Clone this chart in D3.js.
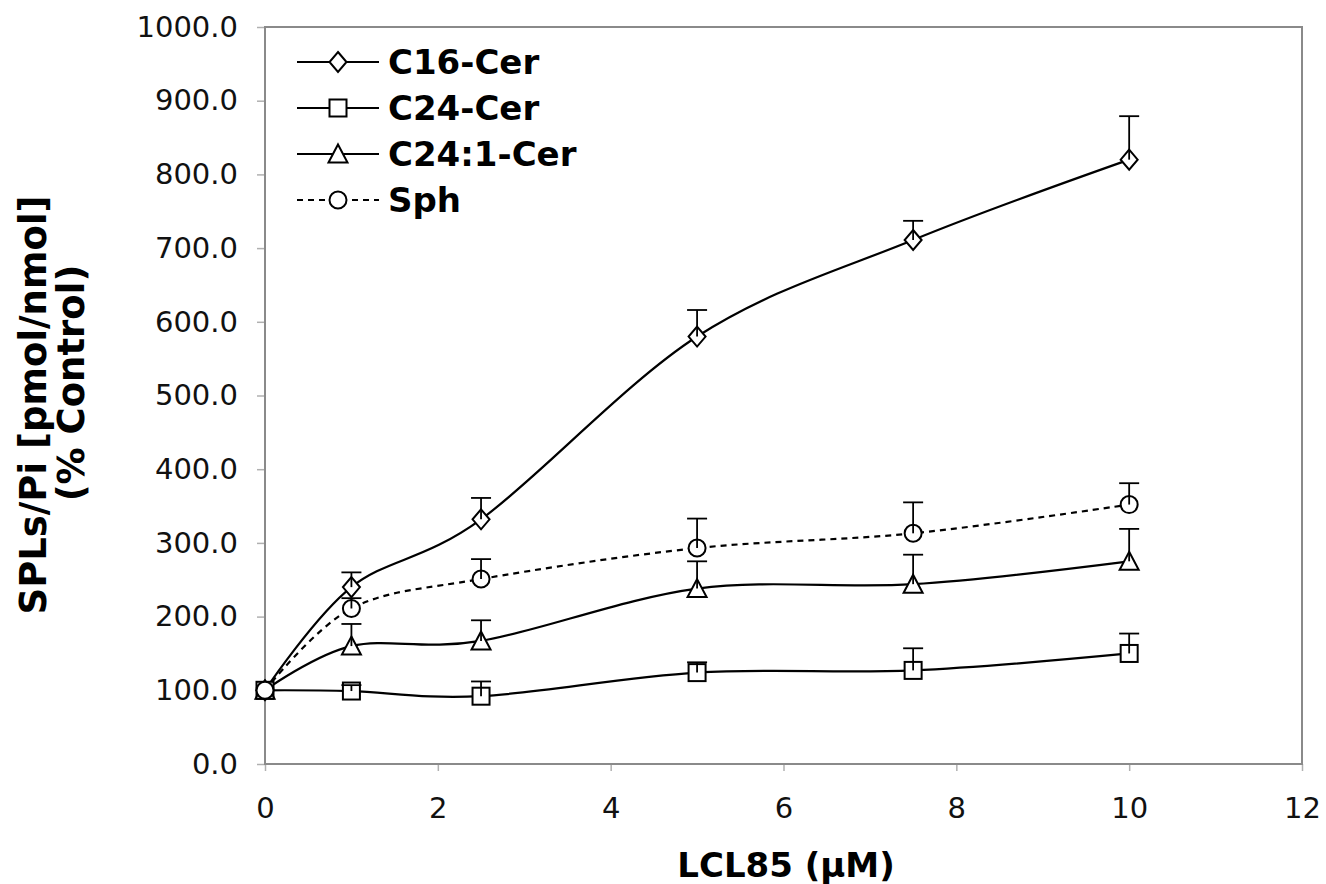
<!DOCTYPE html>
<html>
<head>
<meta charset="utf-8">
<script src="https://cdn.jsdelivr.net/npm/d3@7"></script>
<style>
  body { margin: 0; background: #fff; }
  svg { display: block; font-family: "DejaVu Sans", Verdana, sans-serif; }
</style>
</head>
<body>
<div id="chart"></div>
<script>
// data
const doses = [0, 1, 2.5, 5, 7.5, 10];
const c16Cer = [100, 240, 332, 580, 711, 820];
const c16Err = [0, 20, 29, 36, 26, 59];
const c24Cer = [100, 99, 92, 124, 127, 150];
const c24Err = [0, 8, 20, 14, 30, 27];
const c241Cer = [100, 160, 167, 238, 244, 275];
const c241Err = [0, 30, 28, 37, 40, 44];
const sph = [100, 211, 251, 293, 313, 352];
const sphErr = [0, 14, 27, 40, 42, 29];
const seriesNames = ["C16-Cer", "C24-Cer", "C24:1-Cer", "Sph"];
const xTicks = [0, 2, 4, 6, 8, 10, 12];
const yTicks = [0, 100, 200, 300, 400, 500, 600, 700, 800, 900, 1000];

const W = 1326, H = 884;
const plot = {left: 265, right: 1302, top: 27, bottom: 764};

var xScale = d3.scaleLinear().domain([0, 12]).range([plot.left, plot.right]);
var yScale = d3.scaleLinear().domain([0, 1000]).range([plot.bottom, plot.top]);

var svg = d3.select("#chart").append("svg")
    .attr("width", W)
    .attr("height", H);

// series table built from the arrays
var series = [
    {name: seriesNames[0], vals: c16Cer, err: c16Err, marker: "diamond", dash: null},
    {name: seriesNames[1], vals: c24Cer, err: c24Err, marker: "square", dash: null},
    {name: seriesNames[2], vals: c241Cer, err: c241Err, marker: "triangle", dash: null},
    {name: seriesNames[3], vals: sph, err: sphErr, marker: "circle", dash: "6,5"}
];

// axes
var yAxis = d3.axisLeft(yScale).tickValues(yTicks).tickSize(8).tickPadding(19)
    .tickFormat(d3.format(".1f"));
var xAxis = d3.axisBottom(xScale).tickValues(xTicks).tickSize(7).tickPadding(26)
    .tickFormat(d3.format("d"));

svg.append("g")
    .attr("class", "y axis")
    .attr("transform", "translate(" + plot.left + ",0)")
    .call(yAxis);

svg.append("g")
    .attr("class", "x axis")
    .attr("transform", "translate(0," + plot.bottom + ")")
    .call(xAxis);

svg.selectAll(".axis .domain").remove();
svg.selectAll(".axis line").attr("stroke", "#b0b0b0").attr("stroke-width", 1.5);
svg.selectAll(".axis text")
    .attr("fill", "#111")
    .style("font-size", "29px")
    .style("font-family", "DejaVu Sans, Verdana, sans-serif");

// plot frame
svg.append("rect")
    .attr("x", plot.left)
    .attr("y", plot.top)
    .attr("width", plot.right - plot.left)
    .attr("height", plot.bottom - plot.top)
    .attr("fill", "none")
    .attr("stroke", "#8a8a8a")
    .attr("stroke-width", 2);

// smoothed lines
var line = d3.line()
    .x(function(d, i) { return xScale(doses[i]); })
    .y(function(d) { return yScale(d); })
    .curve(d3.curveCardinal.tension(0));

svg.selectAll(".series")
    .data(series)
    .enter().append("path")
    .attr("class", "series")
    .attr("d", function(d) { return line(d.vals); })
    .attr("fill", "none")
    .attr("stroke", "#000")
    .attr("stroke-width", 2.2)
    .attr("stroke-dasharray", function(d) { return d.dash; });

function drawMarker(g, type, cx, cy) {
    var s = 8.5;
    if (type == "diamond") {
        g.append("path")
            .attr("d", "M" + cx + "," + (cy - s - 1.5) + "L" + (cx + s) + "," + cy + "L" + cx + "," + (cy + s + 1.5) + "L" + (cx - s) + "," + cy + "Z");
    } else if (type == "square") {
        g.append("rect").attr("x", cx - s).attr("y", cy - s).attr("width", 2 * s).attr("height", 2 * s);
    } else if (type == "triangle") {
        g.append("path")
            .attr("d", "M" + cx + "," + (cy - s - 1) + "L" + (cx + s + 1) + "," + (cy + s) + "L" + (cx - s - 1) + "," + (cy + s) + "Z");
    } else {
        g.append("circle").attr("cx", cx).attr("cy", cy).attr("r", s);
    }
    g.selectAll("*").attr("fill", "#fff").attr("stroke", "#000").attr("stroke-width", 2);
}

// markers
series.forEach(function(s) {
    var g = svg.append("g").attr("class", "markers");
    s.vals.forEach(function(v, i) {
        drawMarker(g, s.marker, xScale(doses[i]), yScale(v));
    });
});

// error bars (upper only), drawn on top of markers
series.forEach(function(s) {
    var g = svg.append("g").attr("class", "errbars");
    s.vals.forEach(function(v, i) {
        if (s.err[i] <= 0) return;
        var x = xScale(doses[i]);
        var yTop = yScale(v + s.err[i]);
        g.append("line")
            .attr("x1", x).attr("x2", x)
            .attr("y1", yScale(v)).attr("y2", yTop)
            .attr("stroke", "#000").attr("stroke-width", 1.8);
        g.append("line")
            .attr("x1", x - 10).attr("x2", x + 10)
            .attr("y1", yTop).attr("y2", yTop)
            .attr("stroke", "#000").attr("stroke-width", 1.8);
    });
});

// legend
var legend = svg.append("g").attr("class", "legend");
series.forEach(function(s, i) {
    var cy = 62 + i * 46;
    legend.append("line")
        .attr("x1", 297).attr("x2", 379)
        .attr("y1", cy).attr("y2", cy)
        .attr("stroke", "#000").attr("stroke-width", 2)
        .attr("stroke-dasharray", s.dash);
    drawMarker(legend.append("g"), s.marker, 338, cy);
    legend.append("text")
        .attr("x", 388).attr("y", cy + 12)
        .style("font-size", "34px")
        .style("font-weight", "bold")
        .text(s.name);
});

// axis titles
svg.append("text")
    .attr("text-anchor", "middle")
    .attr("x", 786)
    .attr("y", 877)
    .style("font-size", "34px")
    .style("font-weight", "bold")
    .text("LCL85 (µM)");

var yTitle1 = svg.append("text")
    .attr("text-anchor", "middle")
    .attr("transform", "translate(46,405) rotate(-90)")
    .style("font-size", "37px")
    .style("font-weight", "bold")
    .text("SPLs/Pi [pmol/nmol]");
var yTitle2 = svg.append("text")
    .attr("text-anchor", "middle")
    .attr("transform", "translate(84,383) rotate(-90)")
    .style("font-size", "37px")
    .style("font-weight", "bold")
    .text("(% Control)");
</script>
</body>
</html>
